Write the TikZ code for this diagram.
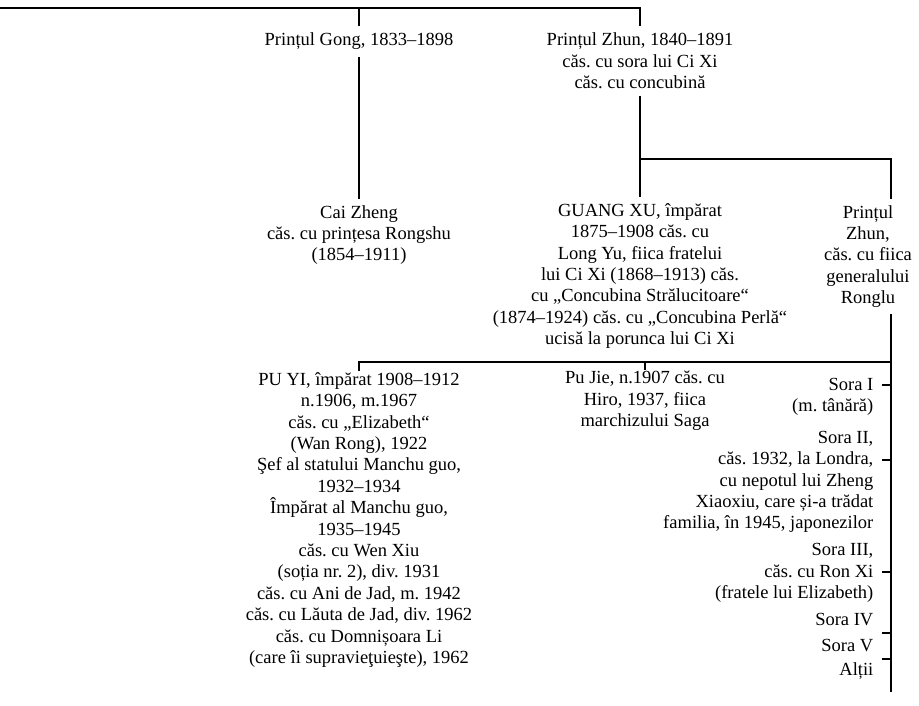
\documentclass[tikz,border=0pt]{standalone}
\usepackage{fontspec}
\setmainfont{Liberation Serif}
\frenchspacing
\newcommand\treefont{\fontsize{18.5pt}{21.4pt}\selectfont}
\begin{document}
\begin{tikzpicture}[
	x=1pt, y=-1pt, line width=1.3pt,
	person/.style={ align=center, font=\treefont, inner xsep=0pt, inner ysep=6pt },
	child/.style={ person, inner ysep=1pt },
	sister/.style={ align=right, font=\treefont, anchor=east, inner sep=0pt }
]
\useasboundingbox (0,0) rectangle (919,705);

\node[person] at (359,41.5) (gong) {Prințul Gong, 1833–1898};
\node[person] at (640,61) (zhun) {Prințul Zhun, 1840–1891\\căs. cu sora lui Ci Xi\\căs. cu concubină};
\node[person] at (359,235) (cai) {Cai Zheng\\căs. cu prințesa Rongshu\\(1854–1911)};
\node[person] at (640,276) (guang) {GUANG XU, împărat\\1875–1908 căs. cu\\Long Yu, fiica fratelui\\lui Ci Xi (1868–1913) căs.\\cu „Concubina Strălucitoare“\\(1874–1924) căs. cu „Concubina Perlă“\\ucisă la porunca lui Ci Xi};
\node[person] at (868,256.5) (zhunb) {Prințul\\Zhun,\\căs. cu fiica\\generalului\\Ronglu};
\node[child] at (359,520) (puyi) {PU YI, împărat 1908–1912\\n.1906, m.1967\\căs. cu „Elizabeth“\\(Wan Rong), 1922\\Şef al statului Manchu guo,\\1932–1934\\Împărat al Manchu guo,\\1935–1945\\căs. cu Wen Xiu\\(soția nr. 2), div. 1931\\căs. cu Ani de Jad, m. 1942\\căs. cu Lăuta de Jad, div. 1962\\căs. cu Domnișoara Li\\(care îi supravieţuieşte), 1962};
\node[child] at (645,401) (pujie) {Pu Jie, n.1907 căs. cu\\Hiro, 1937, fiica\\marchizului Saga};

% surorile
\node[sister] at (874,397) (s1) {Sora I\\(m. tânără)};
\node[sister] at (874,482) (s2) {Sora II,\\căs. 1932, la Londra,\\cu nepotul lui Zheng\\Xiaoxiu, care și-a trădat\\familia, în 1945, japonezilor};
\node[sister] at (874,573) (s3) {Sora III,\\căs. cu Ron Xi\\(fratele lui Elizabeth)};
\node[sister] at (874,619.5) (s4) {Sora IV};
\node[sister] at (874,645.5) (s5) {Sora V};
\node[sister] at (874,671) (alti) {Alții};

\coordinate (start) at (0,8);
\coordinate (fork) at (640,159);
\coordinate (spine) at (891,159);
\coordinate (bar) at (891,362);
\coordinate (end) at (891,692);

\draw[line width=1.7pt] (start) -| (zhun.north);
\draw (gong.north |- start) -- (gong.north);
\draw (gong.south) -- (cai.north);
\draw (zhun.south) -- (guang.north);
\draw (fork) -- (spine) -- (spine |- zhunb.north);
\draw (spine |- zhunb.south) -- (end);
\draw (bar) -| (puyi.north);
\draw (pujie.north |- bar) -- (pujie.north);
\foreach \s/\y in {s1/385, s2/460, s3/572, s5/633, alti/659} \draw (\s.east |- 0,\y) ++(8,0) -- (spine |- 0,\y);

\end{tikzpicture}
\end{document}
